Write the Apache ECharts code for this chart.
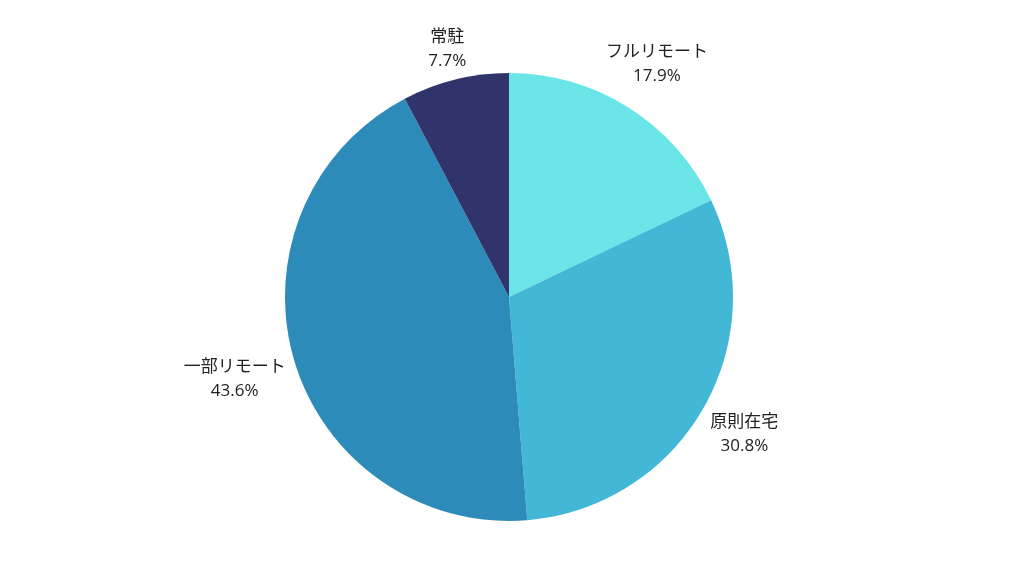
<!DOCTYPE html>
<html>
<head>
<meta charset="utf-8">
<script src="https://cdn.jsdelivr.net/npm/echarts@6/dist/echarts.min.js"></script>
<style>
  html, body { margin: 0; padding: 0; background: #fff; }
  #main { width: 1024px; height: 576px; }
</style>
</head>
<body>
<div id="main"></div>
<script>
var categories = ['フルリモート', '原則在宅', '一部リモート', '常駐'];
var shares = [17.9, 30.8, 43.6, 7.7];
var colors = ['#6ae5e8', '#42b7d6', '#2d8bba', '#31336b'];

var cx = 509, cy = 297, R = 224;

var total = shares.reduce(function (a, b) { return a + b; }, 0);
// mid angle of each slice, clockwise from top
var midAngles = [];
var acc = 0;
for (var i = 0; i < shares.length; i++) {
  midAngles.push((acc + shares[i] / 2) / total * Math.PI * 2);
  acc += shares[i];
}

var chart = echarts.init(document.getElementById('main'));
var option = {
  animation: false,
  series: [{
    type: 'pie',
    center: [cx, cy],
    radius: R,
    startAngle: 90,
    clockwise: true,
    data: categories.map(function (c, i) {
      return { name: c, value: shares[i], itemStyle: { color: colors[i] } };
    }),
    label: {
      show: true,
      position: 'outside',
      formatter: function (p) {
        return p.name + '\n' + p.value.toFixed(1) + '%';
      },
      fontFamily: '"Open Sans", "Noto Sans CJK JP"',
      fontSize: 17,
      lineHeight: 24,
      color: '#222',
      align: 'center'
    },
    labelLine: { show: false },
    labelLayout: function (params) {
      var a = midAngles[params.dataIndex];
      var s = Math.sin(a), c = Math.cos(a);
      var w = params.labelRect.width, h = params.labelRect.height;
      var r = R + 6 + Math.abs(s) * w / 2 + Math.abs(c) * h / 2;
      return {
        x: cx + r * s,
        y: cy - r * c + 2,
        align: 'center',
        verticalAlign: 'middle'
      };
    }
  }]
};
chart.setOption(option);
</script>
</body>
</html>
